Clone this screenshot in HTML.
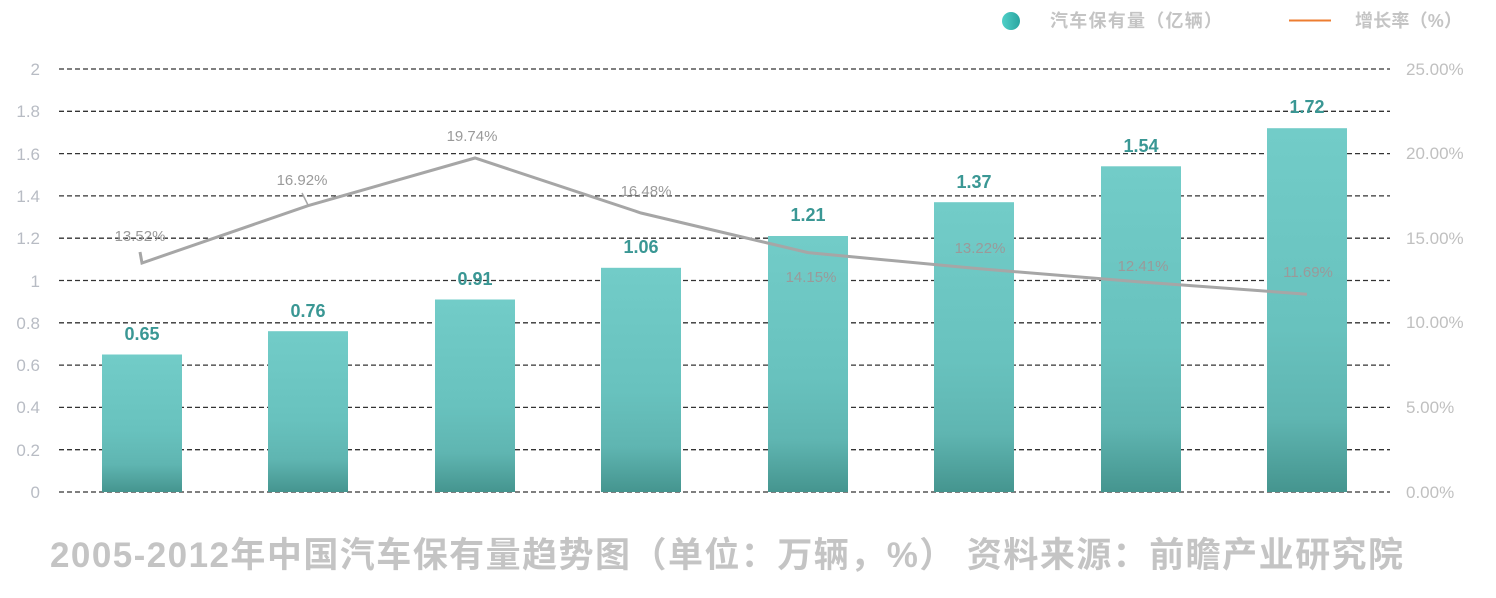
<!DOCTYPE html>
<html><head><meta charset="utf-8"><style>
body{margin:0;background:#fff;}
svg{display:block;font-family:"Liberation Sans","Noto Sans CJK SC",sans-serif;}
</style></head><body>
<svg width="1496" height="598" viewBox="0 0 1496 598">
<defs>
<linearGradient id="bg" x1="0" y1="0" x2="0" y2="1">
<stop offset="0" stop-color="#72ccc8"/><stop offset="0.55" stop-color="#68c2be"/><stop offset="0.8" stop-color="#5fb5b1"/><stop offset="1" stop-color="#45958f"/>
</linearGradient>
<linearGradient id="lg" x1="0" y1="0" x2="1" y2="0"><stop offset="0" stop-color="#4fd0c8"/><stop offset="1" stop-color="#2aa5a0"/></linearGradient>
</defs>
<g stroke="#333" stroke-width="1.3" stroke-dasharray="5,3">
<line x1="59" y1="69" x2="1390" y2="69"/><line x1="59" y1="111.3" x2="1390" y2="111.3"/><line x1="59" y1="153.6" x2="1390" y2="153.6"/><line x1="59" y1="195.9" x2="1390" y2="195.9"/><line x1="59" y1="238.2" x2="1390" y2="238.2"/><line x1="59" y1="280.5" x2="1390" y2="280.5"/><line x1="59" y1="322.8" x2="1390" y2="322.8"/><line x1="59" y1="365.1" x2="1390" y2="365.1"/><line x1="59" y1="407.4" x2="1390" y2="407.4"/><line x1="59" y1="449.7" x2="1390" y2="449.7"/><line x1="59" y1="492" x2="1390" y2="492"/>
</g>
<g fill="#b8bcc4" font-size="17" text-anchor="end">
<text x="40" y="75">2</text><text x="40" y="117">1.8</text><text x="40" y="160">1.6</text><text x="40" y="202">1.4</text><text x="40" y="244">1.2</text><text x="40" y="287">1</text><text x="40" y="329">0.8</text><text x="40" y="371">0.6</text><text x="40" y="413">0.4</text><text x="40" y="456">0.2</text><text x="40" y="498">0</text>
</g>
<g fill="#c0c0c0" font-size="17">
<text x="1406" y="75">25.00%</text><text x="1406" y="159">20.00%</text><text x="1406" y="244">15.00%</text><text x="1406" y="328">10.00%</text><text x="1406" y="413">5.00%</text><text x="1406" y="498">0.00%</text>
</g>
<g fill="url(#bg)">
<rect x="102" y="354.5" width="80" height="137.5"/><rect x="268" y="331.2" width="80" height="160.8"/><rect x="435" y="299.5" width="80" height="192.5"/><rect x="601" y="267.8" width="80" height="224.2"/><rect x="768" y="236" width="80" height="256"/><rect x="934" y="202.2" width="80" height="289.8"/><rect x="1101" y="166.3" width="80" height="325.7"/><rect x="1267" y="128.2" width="80" height="363.8"/>
</g>
<g fill="#3a9794" font-size="18" font-weight="bold" text-anchor="middle">
<text x="142" y="340">0.65</text><text x="308" y="317">0.76</text><text x="475" y="285">0.91</text><text x="641" y="253">1.06</text><text x="808" y="221">1.21</text><text x="974" y="188">1.37</text><text x="1141" y="152">1.54</text><text x="1307" y="113">1.72</text>
</g>
<polyline fill="none" stroke="#a6a6a6" stroke-width="3" points="140,252 142,263 308,205.7 475,158 641,213 808,252.6 974,268.3 1141,282 1307,294.2"/>
<line x1="302" y1="193" x2="308" y2="205" stroke="#a6a6a6" stroke-width="1.5"/>
<g fill="#9a9a9a" font-size="15" text-anchor="middle">
<text x="140" y="241">13.52%</text><text x="302" y="185">16.92%</text><text x="472" y="141">19.74%</text><text x="646" y="196">16.48%</text><text x="811" y="282">14.15%</text><text x="980" y="253">13.22%</text><text x="1143" y="271">12.41%</text><text x="1308" y="277">11.69%</text>
</g>
<circle cx="1011" cy="21" r="9" fill="url(#lg)"/>
<text x="1050" y="27" fill="#c4c4c4" font-size="18" font-weight="bold" textLength="172" lengthAdjust="spacing">汽车保有量（亿辆）</text>
<line x1="1289" y1="20.5" x2="1331" y2="20.5" stroke="#ed7d31" stroke-width="2"/>
<text x="1355" y="27" fill="#c4c4c4" font-size="18" font-weight="bold" textLength="107" lengthAdjust="spacing">增长率（%）</text>
<text x="50" y="567" fill="#c4c4c4" font-size="35" font-weight="bold" textLength="1353" lengthAdjust="spacing">2005-2012年中国汽车保有量趋势图（单位：万辆，%） 资料来源：前瞻产业研究院</text>
</svg>
</body></html>
